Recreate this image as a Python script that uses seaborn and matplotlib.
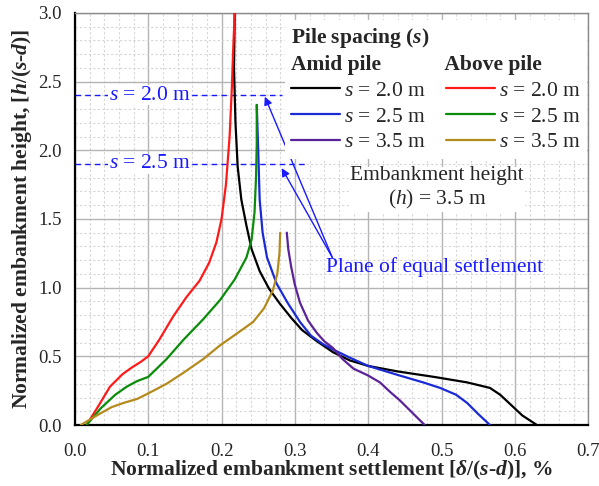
import matplotlib
matplotlib.use("Agg")
import matplotlib.pyplot as plt
import seaborn as sns
import pandas as pd
from matplotlib.ticker import MultipleLocator, FormatStrFormatter

amid_20_x = [0.218, 0.217, 0.219, 0.222, 0.227, 0.234, 0.241, 0.252, 0.265, 0.28, 0.295, 0.31,
             0.33, 0.352, 0.375, 0.4, 0.44, 0.49, 0.535, 0.566, 0.58, 0.594, 0.61, 0.63]
amid_20_y = [3.0, 2.6, 2.2, 1.88, 1.64, 1.45, 1.28, 1.12, 0.99, 0.88, 0.78, 0.69,
             0.61, 0.53, 0.47, 0.43, 0.39, 0.35, 0.31, 0.27, 0.22, 0.15, 0.07, 0.0]
amid_25_x = [0.248, 0.25, 0.252, 0.256, 0.262, 0.275, 0.29, 0.307, 0.322, 0.338, 0.352, 0.375,
             0.4, 0.443, 0.475, 0.498, 0.52, 0.535, 0.55, 0.566]
amid_25_y = [2.33, 2.0, 1.64, 1.40, 1.22, 1.03, 0.89, 0.75, 0.65, 0.59, 0.55, 0.49,
             0.43, 0.36, 0.31, 0.27, 0.22, 0.16, 0.08, 0.0]
amid_35_x = [0.289, 0.291, 0.295, 0.3, 0.307, 0.318, 0.33, 0.34, 0.352, 0.365, 0.38, 0.4,
             0.416, 0.43, 0.443, 0.46, 0.477]
amid_35_y = [1.40, 1.28, 1.15, 1.02, 0.89, 0.76, 0.67, 0.61, 0.56, 0.48, 0.41, 0.36,
             0.31, 0.24, 0.18, 0.09, 0.0]
above_20_x = [0.016, 0.03, 0.048, 0.065, 0.078, 0.09, 0.1, 0.115, 0.134, 0.152, 0.17, 0.183,
              0.193, 0.2, 0.206, 0.211, 0.214, 0.216, 0.218]
above_20_y = [0.0, 0.12, 0.28, 0.37, 0.42, 0.46, 0.50, 0.62, 0.79, 0.93, 1.05, 1.18,
              1.33, 1.50, 1.75, 2.10, 2.45, 2.75, 3.0]
above_25_x = [0.016, 0.035, 0.055, 0.071, 0.085, 0.1, 0.125, 0.148, 0.175, 0.198, 0.218, 0.234,
              0.241, 0.245, 0.247, 0.248, 0.248]
above_25_y = [0.0, 0.12, 0.22, 0.28, 0.32, 0.35, 0.48, 0.62, 0.77, 0.91, 1.06, 1.22,
              1.35, 1.55, 1.8, 2.05, 2.33]
above_35_x = [0.008, 0.03, 0.05, 0.066, 0.085, 0.1, 0.125, 0.148, 0.175, 0.198, 0.222, 0.243,
              0.258, 0.27, 0.276, 0.279, 0.28]
above_35_y = [0.0, 0.07, 0.13, 0.16, 0.19, 0.23, 0.30, 0.38, 0.48, 0.58, 0.67, 0.75,
              0.85, 0.98, 1.1, 1.25, 1.40]

spacing_labels = ["2.0", "2.5", "3.5"]

# plane of equal settlement
plane_levels = [2.4, 1.9]
plane_ends = [0.283, 0.314]
plane_labels = ["2.0", "2.5"]
arrow_heads_x = [0.259, 0.282]
arrow_heads_y = [2.39, 1.87]
arrow_tail = (0.351, 1.22)

series = [
    ("amid", "2.0", amid_20_x, amid_20_y, "black"),
    ("amid", "2.5", amid_25_x, amid_25_y, "#1a2bd6"),
    ("amid", "3.5", amid_35_x, amid_35_y, "#5b2399"),
    ("above", "2.0", above_20_x, above_20_y, "#ff1a1a"),
    ("above", "2.5", above_25_x, above_25_y, "#0a8c0a"),
    ("above", "3.5", above_35_x, above_35_y, "#b58a1c"),
]

sns.set_style("white")
serif = ["Liberation Serif", "DejaVu Serif"]
plt.rcParams["font.family"] = serif
plt.rcParams["mathtext.fontset"] = "custom"
plt.rcParams["mathtext.rm"] = "Liberation Serif"
plt.rcParams["mathtext.it"] = "Liberation Serif:italic"
plt.rcParams["mathtext.bf"] = "Liberation Serif:bold"
try:
    plt.rcParams["mathtext.bfit"] = "Liberation Serif:bold:italic"
except KeyError:
    pass

fig = plt.figure(figsize=(5.99, 4.86), dpi=100)
ax = fig.add_axes([0.125, 0.1255, 0.857, 0.848])

handles = []
for pos, s, xs, ys, col in series:
    df = pd.DataFrame({"x": xs, "y": ys})
    sns.lineplot(data=df, x="x", y="y", sort=False, estimator=None, color=col,
                 lw=1.6, ax=ax, zorder=3)
    handles.append(ax.lines[-1])

ax.set_xlim(0, 0.7)
ax.set_ylim(0, 3.0)
ax.xaxis.set_major_locator(MultipleLocator(0.1))
ax.xaxis.set_minor_locator(MultipleLocator(0.02))
ax.yaxis.set_major_locator(MultipleLocator(0.5))
ax.yaxis.set_minor_locator(MultipleLocator(0.1))
ax.xaxis.set_major_formatter(FormatStrFormatter("%.1f"))
ax.yaxis.set_major_formatter(FormatStrFormatter("%.1f"))
ax.grid(which="major", color="#b4b4b4", lw=1.0, zorder=0)
ax.grid(which="minor", color="#d6d6d6", lw=0.8, ls=(0, (2, 2)), zorder=0)
ax.set_axisbelow(True)

ax.tick_params(which="major", direction="inout", length=10, width=1.3, labelsize=13.5,
               color="black", labelfontfamily="Liberation Serif")
ax.tick_params(axis="x", which="major", pad=8)
ax.tick_params(axis="y", which="major", pad=4.5)
ax.tick_params(which="minor", direction="out", length=4, width=1.0, color="black")
for side in ["left", "bottom"]:
    ax.spines[side].set_color("black")
    ax.spines[side].set_linewidth(1.6)
for side in ["top", "right"]:
    ax.spines[side].set_color("#8a8a8a")
    ax.spines[side].set_linewidth(1.0)

ax.set_xlabel(r"Normalized embankment settlement [$\mathbfit{\delta}$/($\mathbfit{s}$-$\mathbfit{d}$)], %",
              fontsize=15.5, fontweight="bold", labelpad=-1)
ax.set_ylabel(r"Normalized embankment height, [$\mathbfit{h}$/($\mathbfit{s}$-$\mathbfit{d}$)]",
              fontsize=15.5, fontweight="bold", labelpad=3)

blue = "#1a1aff"
ax.hlines(plane_levels, 0, plane_ends, colors=blue, linestyles=(0, (4, 3)), lw=1.0, zorder=2)
for lvl, lab in zip(plane_levels, plane_labels):
    ax.text(0.102, lvl, r"$s$ = " + lab + " m", color=blue, fontsize=15.5, ha="center", va="center",
            bbox=dict(facecolor="white", edgecolor="none", pad=0.5), zorder=4)
for hx, hy in zip(arrow_heads_x, arrow_heads_y):
    ax.annotate("", xy=(hx, hy), xytext=arrow_tail,
                arrowprops=dict(arrowstyle="-|>", color=blue, lw=1.0, mutation_scale=12,
                                shrinkA=0, shrinkB=0), zorder=4)
ax.text(0.491, 1.15, "Plane of equal settlement", color=blue, fontsize=15.5, ha="center",
        va="center", zorder=4)

ax.text(0.494, 1.72, "Embankment height\n" + r"($h$) = 3.5 m", fontsize=15.5, ha="center",
        va="center", linespacing=1.15, bbox=dict(facecolor="white", edgecolor="none", pad=1),
        zorder=4)

labels = [r"$s$ = " + s + " m" for s in spacing_labels] * 2
leg = ax.legend(handles, labels, ncol=2, loc="upper right", bbox_to_anchor=(1.0195, 1.01),
                fontsize=15.5, handlelength=2.25, handletextpad=0.2, columnspacing=0.95,
                labelspacing=0.26, borderpad=0.3, frameon=True, fancybox=False,
                title=r"Pile spacing ($\mathbfit{s}$)" + "\n" + "Amid pile" + " " * 12 + "Above pile",
                title_fontproperties={"weight": "bold", "size": 15.5, "family": serif},
                alignment="left")
leg.get_title().set_linespacing(1.35)
leg.get_frame().set_facecolor("white")
leg.get_frame().set_edgecolor("none")
leg.get_frame().set_alpha(1)
leg.set_zorder(5)

for t in ax.get_xticklabels() + ax.get_yticklabels():
    t.set_fontfamily(serif)

fig.savefig("out.png", dpi=100)
